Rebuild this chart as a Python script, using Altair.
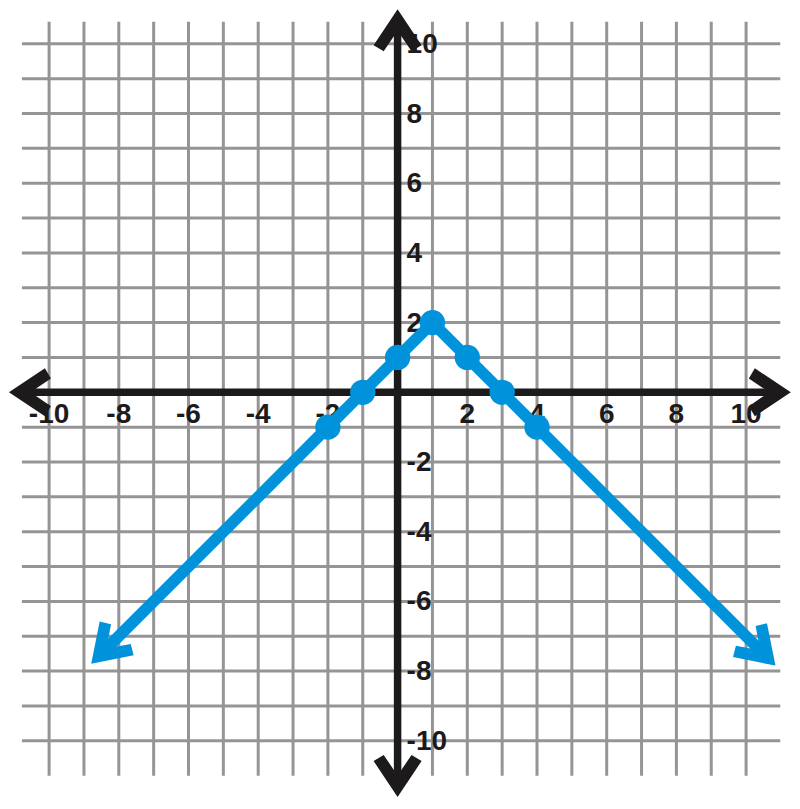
import altair as alt
import pandas as pd

# ---------------- data ----------------
# graph of y = 2 - |x - 1|
dot_x = [-2, -1, 0, 1, 2, 3, 4]
dot_y = [-1, 0, 1, 2, 1, 0, -1]
# where the blue rays end (arrowheads start)
ray_left = [-8.5, -7.5]
ray_right = [10.55, -7.55]

x_ticks = [-10, -8, -6, -4, -2, 2, 4, 6, 8, 10]
y_ticks = [-10, -8, -6, -4, -2, 2, 4, 6, 8, 10]
grid_vals = list(range(-10, 11))

# ---------------- layout ----------------
W, H = 784, 790
UNIT = 34.85          # pixels per unit
X0 = 389.6            # plot px of x = 0
Y0 = 384.3            # plot px of y = 0
xs = alt.Scale(domain=[-X0 / UNIT, (W - X0) / UNIT], nice=False, zero=False)
ys = alt.Scale(domain=[(Y0 - H) / UNIT, Y0 / UNIT], nice=False, zero=False)

BLUE = "#0092DB"
BLACK = "#1c1a1a"
GRID = "#959595"
FONT = "Liberation Sans"

# grid extents
gh_x1, gh_x2 = -10.78, 10.98
gv_y1, gv_y2 = -11.0, 10.63
# axis extents (where arrowheads sit)
ax_left, ax_right = -10.74, 10.87
ax_bottom, ax_top = -11.2, 10.58

ARROW = "M0.6,0L-0.9,-1L-1.15,-0.58L-0.3,0L-1.15,0.58L-0.9,1Z"
ARROW_SIZE = 2304


def X(f):
    return alt.X(f, type="quantitative", scale=xs, axis=None)


def Y(f):
    return alt.Y(f, type="quantitative", scale=ys, axis=None)


# grid
hgrid = pd.DataFrame({"y": grid_vals, "x1": gh_x1, "x2": gh_x2})
vgrid = pd.DataFrame({"x": grid_vals, "y1": gv_y1, "y2": gv_y2})
grid_h = alt.Chart(hgrid).mark_rule(color=GRID, strokeWidth=3).encode(
    x=X("x1"), x2="x2", y=Y("y"))
grid_v = alt.Chart(vgrid).mark_rule(color=GRID, strokeWidth=3).encode(
    x=X("x"), y=Y("y1"), y2="y2")

# axes
xaxis = alt.Chart(pd.DataFrame({"x1": [ax_left], "x2": [ax_right], "y": [0]})).mark_rule(
    color=BLACK, strokeWidth=7.5).encode(x=X("x1"), x2="x2", y=Y("y"))
yaxis = alt.Chart(pd.DataFrame({"x": [0], "y1": [ax_bottom], "y2": [ax_top]})).mark_rule(
    color=BLACK, strokeWidth=7.5).encode(x=X("x"), y=Y("y1"), y2="y2")


def arrow(px, py, ang, color):
    return alt.Chart(pd.DataFrame({"x": [px], "y": [py]})).mark_point(
        shape=ARROW, filled=True, size=ARROW_SIZE, angle=ang, color=color,
        opacity=1, strokeWidth=0).encode(x=X("x"), y=Y("y"))


axis_arrows = [
    arrow(ax_right, 0, 0, BLACK),
    arrow(ax_left, 0, 180, BLACK),
    arrow(0, ax_top, 270, BLACK),
    arrow(0, ax_bottom, 90, BLACK),
]

# tick labels
xlab = pd.DataFrame({"x": x_ticks, "y": 0, "t": [str(v) for v in x_ticks]})
ylab = pd.DataFrame({"x": 0, "y": y_ticks, "t": [str(v) for v in y_ticks]})
xtext = alt.Chart(xlab).mark_text(
    font=FONT, fontSize=28, fontWeight="bold", color=BLACK, align="center",
    baseline="alphabetic", dy=31).encode(x=X("x"), y=Y("y"), text="t:N")
ytext = alt.Chart(ylab).mark_text(
    font=FONT, fontSize=28, fontWeight="bold", color=BLACK, align="left",
    baseline="alphabetic", dx=9, dy=9).encode(x=X("x"), y=Y("y"), text="t:N")

# blue graph
line_x = [ray_left[0]] + dot_x + [ray_right[0]]
line_y = [ray_left[1]] + dot_y + [ray_right[1]]
line_df = pd.DataFrame({"x": line_x, "y": line_y, "i": list(range(len(line_x)))})
blue_line = alt.Chart(line_df).mark_line(
    color=BLUE, strokeWidth=11.5, strokeJoin="round", strokeCap="butt").encode(
    x=X("x"), y=Y("y"), order="i:Q")
dots = alt.Chart(pd.DataFrame({"x": dot_x, "y": dot_y})).mark_circle(
    color=BLUE, size=640, opacity=1).encode(x=X("x"), y=Y("y"))
blue_arrows = [
    arrow(ray_left[0], ray_left[1], 135, BLUE),
    arrow(ray_right[0], ray_right[1], 45, BLUE),
]

chart = alt.layer(
    grid_h, grid_v, xtext, ytext, xaxis, yaxis, *axis_arrows,
    blue_line, dots, *blue_arrows
).properties(
    width=W, height=H, padding=0, background="white",
    autosize=alt.AutoSizeParams(type="none"),
).configure_view(strokeWidth=0)

chart.save("out.html", embed_options={"renderer": "svg", "actions": False})
